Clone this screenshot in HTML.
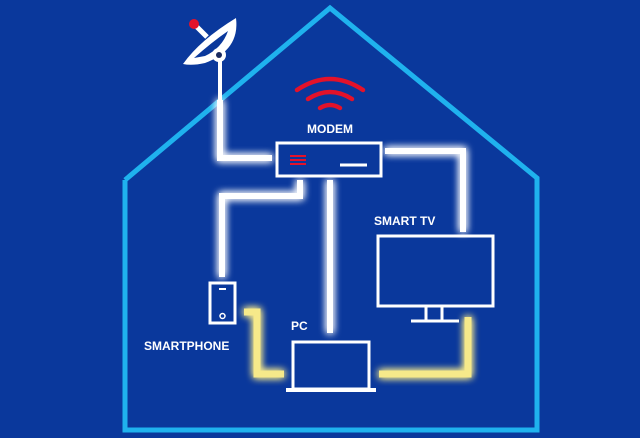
<!DOCTYPE html>
<html><head><style>
html,body{margin:0;padding:0;background:#0a3a9a;}
svg{display:block}
text{font-family:"Liberation Sans",sans-serif;font-weight:bold;fill:#fff}
</style></head><body>
<svg width="640" height="438" viewBox="0 0 640 438">
<defs>
<filter id="g" x="-20%" y="-20%" width="140%" height="140%">
<feGaussianBlur stdDeviation="4" result="b"/>
<feMerge><feMergeNode in="b"/><feMergeNode in="b"/><feMergeNode in="SourceGraphic"/></feMerge>
</filter>
</defs>
<rect width="640" height="438" fill="#0a389c"/>
<!-- house -->
<polyline points="125,180 330,8 537,178 537,430 125,430 125,180" fill="none" stroke="#1fb2ee" stroke-width="5" stroke-linejoin="miter"/>
<!-- glowing white cables -->
<g fill="none" stroke="#fff" stroke-width="6" filter="url(#g)" stroke-linejoin="miter">
<polyline points="220,100 220,158 272,158"/>
<polyline points="385,151 463,151 463,232"/>
<polyline points="330,180 330,333"/>
<polyline points="300,180 300,196 222,196 222,277"/>
</g>
<g fill="none" stroke="#f6e98a" stroke-width="7" filter="url(#g)">
<polyline points="244,312 257,312 257,374 284,374"/>
<polyline points="379,374 468,374 468,317"/>
</g>
<line x1="220" y1="58" x2="220" y2="100" stroke="#fff" stroke-width="4"/>
<!-- dish -->
<path d="M183,64 Q200,40 236,18 Q240,50 205,63 Q192,66 183,64 Z" fill="#fff"/>
<path d="M194,58 Q212,42 228,31 Q222,48 205,56 Z" fill="#0a389c"/>
<line x1="196" y1="26" x2="207" y2="37" stroke="#fff" stroke-width="5"/>
<circle cx="219" cy="55" r="7" fill="#fff"/>
<circle cx="219" cy="55" r="3" fill="#1a2a60"/>
<circle cx="194" cy="24" r="5" fill="#e3122a"/>
<!-- wifi -->
<g fill="none" stroke="#e3122a" stroke-width="4.5" stroke-linecap="round">
<path d="M297,90 Q330,68 363,90"/>
<path d="M308,99 Q330,85 352,99"/>
<path d="M320,108 Q330,102 340,108"/>
</g>
<text x="330" y="133" font-size="12" text-anchor="middle">MODEM</text>
<!-- modem -->
<rect x="277" y="143" width="104" height="33" fill="#0a389c" stroke="#fff" stroke-width="3"/>
<g stroke="#e3122a" stroke-width="2"><line x1="290" y1="156" x2="306" y2="156"/><line x1="290" y1="160" x2="306" y2="160"/><line x1="290" y1="164" x2="306" y2="164"/></g>
<line x1="340" y1="165" x2="367" y2="165" stroke="#fff" stroke-width="3"/>
<!-- TV -->
<text x="374" y="225" font-size="12">SMART TV</text>
<rect x="378" y="236" width="115" height="70" fill="none" stroke="#fff" stroke-width="3"/>
<line x1="426" y1="306" x2="426" y2="320" stroke="#fff" stroke-width="3"/>
<line x1="442" y1="306" x2="442" y2="320" stroke="#fff" stroke-width="3"/>
<line x1="411" y1="321" x2="459" y2="321" stroke="#fff" stroke-width="3"/>
<!-- phone -->
<rect x="210" y="283" width="25" height="40" fill="none" stroke="#fff" stroke-width="3"/>
<line x1="219" y1="289" x2="226" y2="289" stroke="#fff" stroke-width="2"/>
<circle cx="222.5" cy="316" r="2.5" fill="none" stroke="#fff" stroke-width="1.5"/>
<text x="144" y="350" font-size="12">SMARTPHONE</text>
<!-- PC -->
<text x="291" y="330" font-size="12">PC</text>
<rect x="293" y="342" width="76" height="47" fill="none" stroke="#fff" stroke-width="3"/>
<line x1="286" y1="390" x2="376" y2="390" stroke="#fff" stroke-width="4"/>
</svg>
</body></html>
